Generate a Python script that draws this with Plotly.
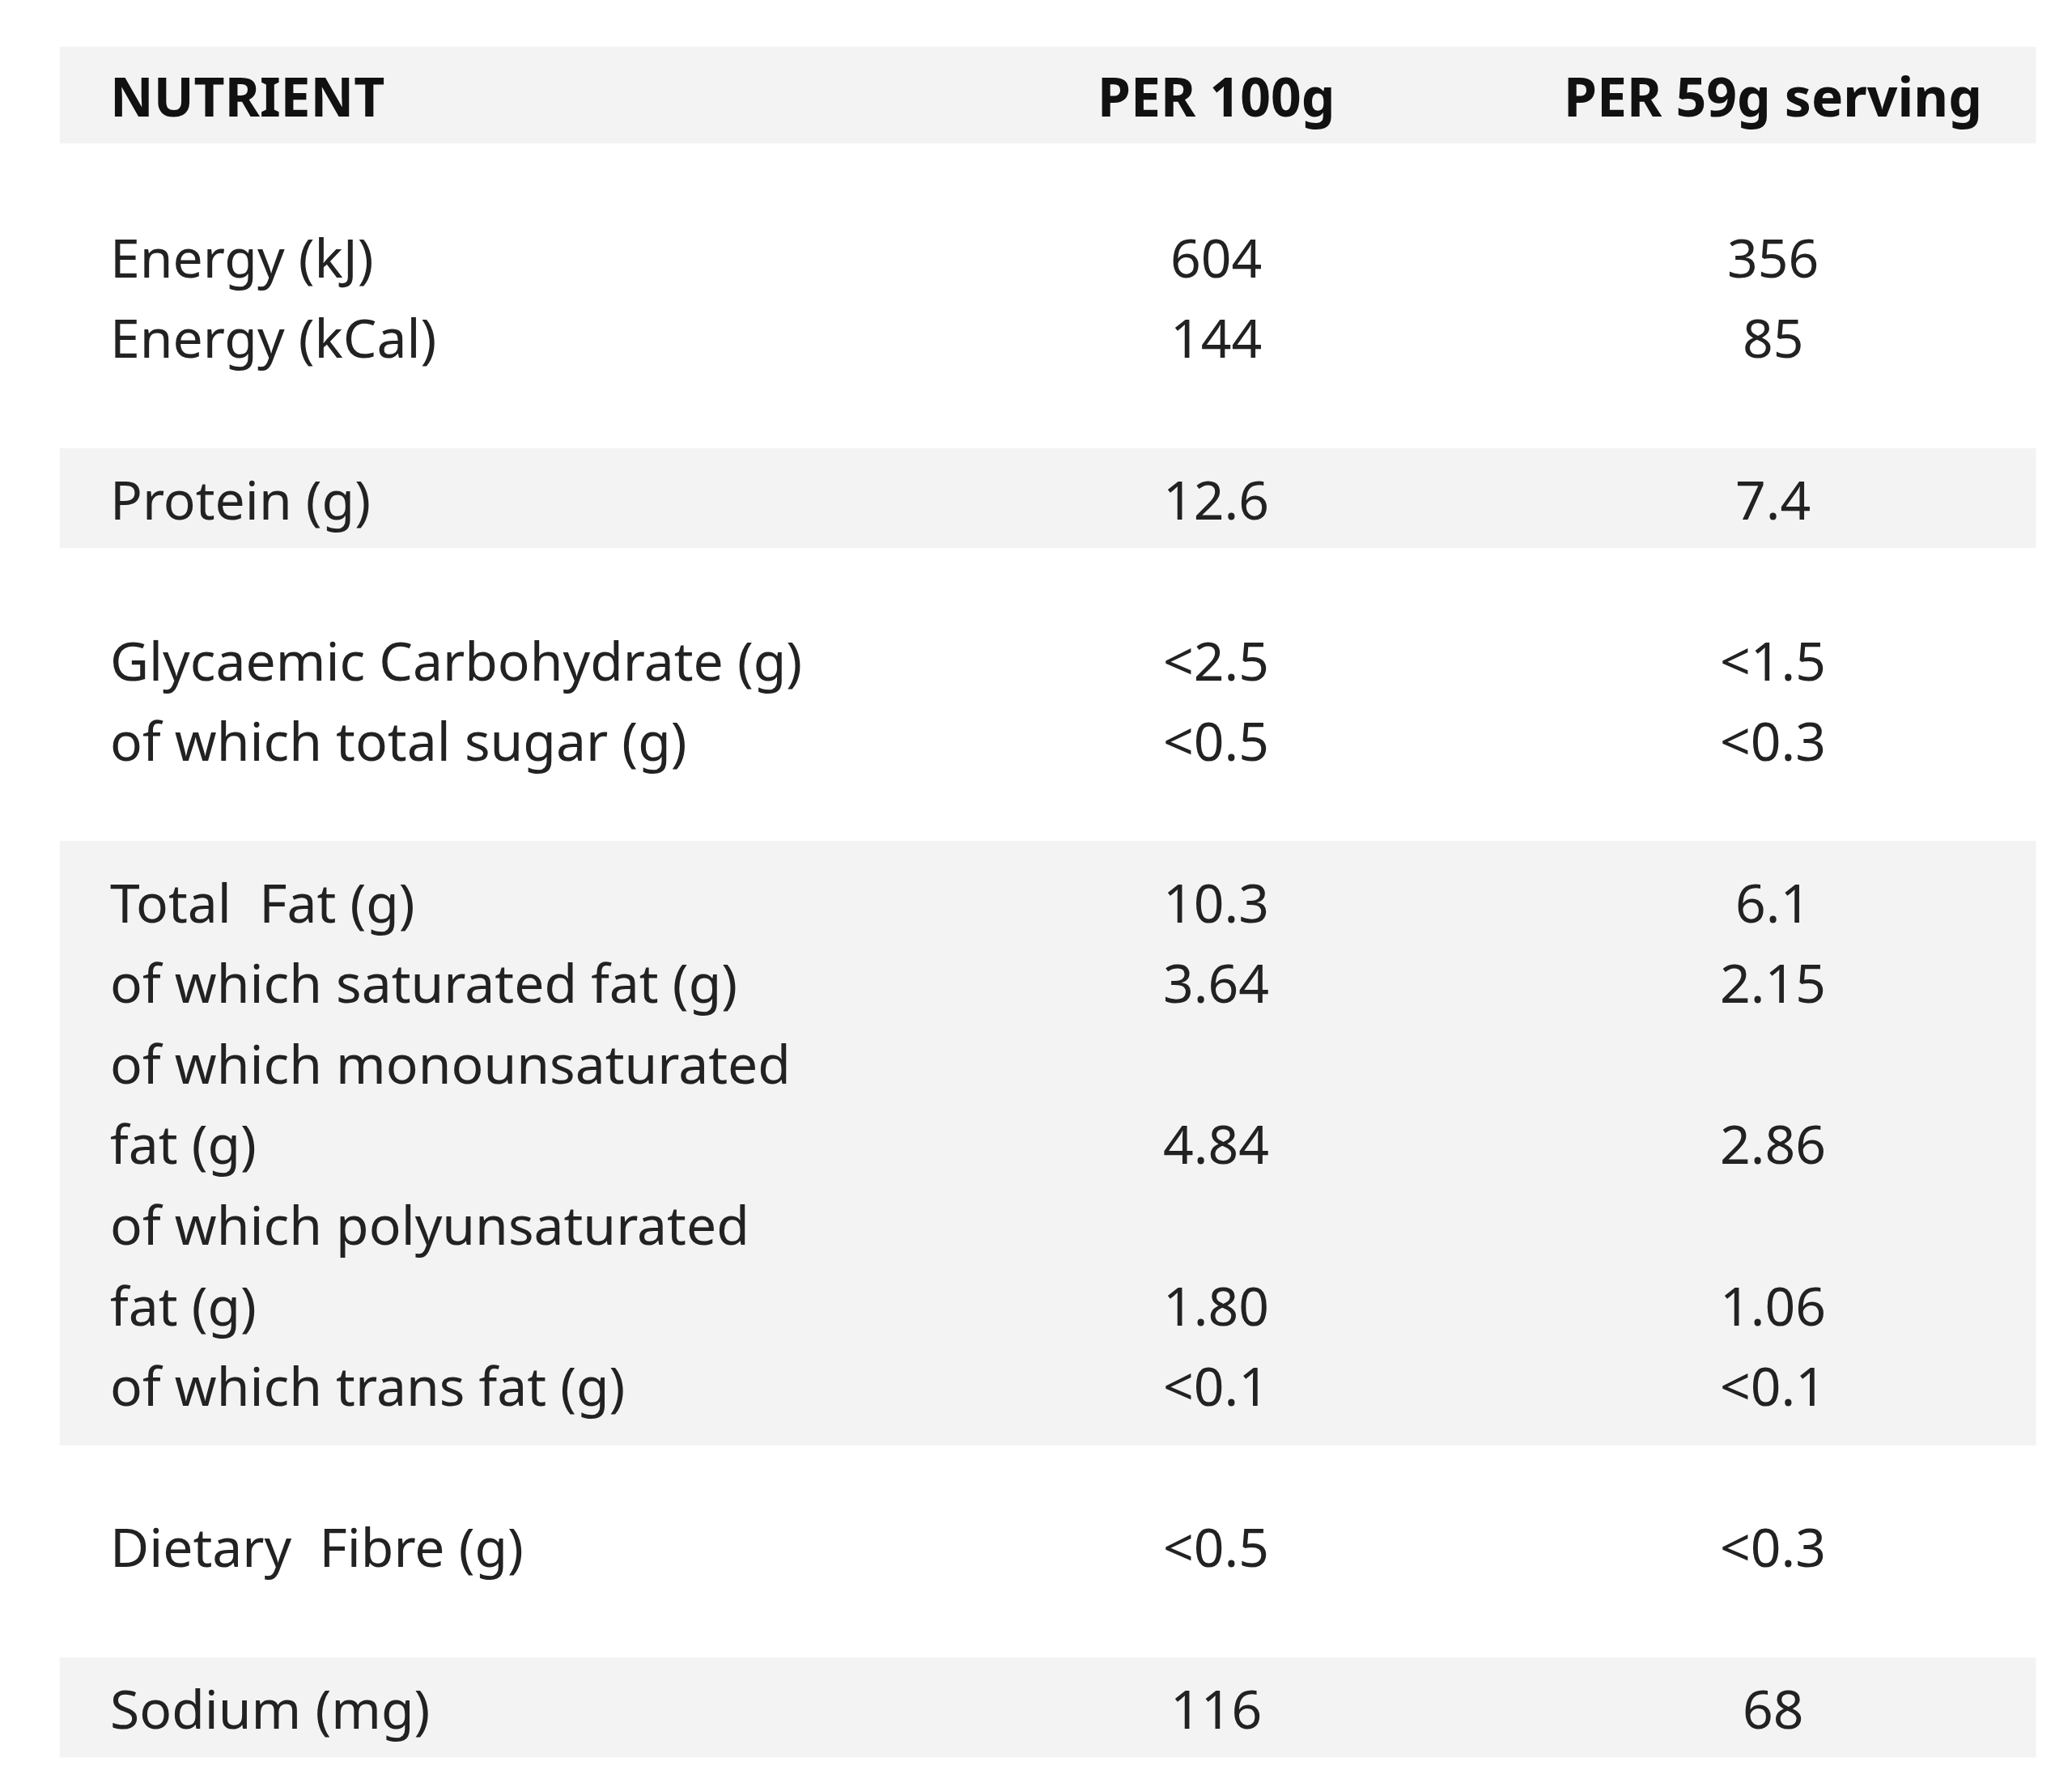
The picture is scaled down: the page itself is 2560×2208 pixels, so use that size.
import plotly.graph_objects as go

# table content, one entry per printed line ("" = no value on that line)
headers = ["NUTRIENT", "PER 100g", "PER 59g serving"]
groups = [
    [("Energy (kJ)", "604", "356"),
     ("Energy (kCal)", "144", "85")],
    [("Protein (g)", "12.6", "7.4")],
    [("Glycaemic Carbohydrate (g)", "<2.5", "<1.5"),
     ("of which total sugar (g)", "<0.5", "<0.3")],
    [("Total  Fat (g)", "10.3", "6.1"),
     ("of which saturated fat (g)", "3.64", "2.15"),
     ("of which monounsaturated", "", ""),
     ("fat (g)", "4.84", "2.86"),
     ("of which polyunsaturated", "", ""),
     ("fat (g)", "1.80", "1.06"),
     ("of which trans fat (g)", "<0.1", "<0.1")],
    [("Dietary  Fibre (g)", "<0.5", "<0.3")],
    [("Sodium (mg)", "116", "68")],
]
shaded = [False, True, False, True, False, True]

FONT = "Noto Sans"
SIZE = 66
GREY = "#f3f3f3"
col_x = [77, 911, 1330]

fig = go.Figure()
shapes, ann = [], []

def band(y0, y1):
    shapes.append(dict(type="rect", xref="x", yref="y", x0=40, x1=1528,
                       y0=y0, y1=y1, fillcolor=GREY, line_width=0, layer="below"))

band(-0.6, 0.6)
for i, h in enumerate(headers):
    ann.append(dict(x=col_x[i], y=0, text="<b>" + h + "</b>" if False else h,
                    xanchor="left" if i == 0 else "center",
                    font=dict(family=FONT, size=SIZE, color="#111111"),
                    showarrow=False))

line = 2
for g, sh in zip(groups, shaded):
    if sh:
        pad = 0.62 if len(g) == 1 else 0.75
        band(line - pad, line + len(g) - 1 + pad)
    for row in g:
        for i, t in enumerate(row):
            if t:
                ann.append(dict(x=col_x[i], y=line, text=t,
                                xanchor="left" if i == 0 else "center",
                                font=dict(family=FONT, size=SIZE, color="#222222"),
                                showarrow=False))
        line += 1
    line += 1

# bold header font
for a in ann[:3]:
    a["font"]["family"] = FONT
    a["text"] = "<b>" + a["text"] + "</b>"

fig.add_trace(go.Scatter(x=[0], y=[0], mode="markers", marker_opacity=0,
                         hoverinfo="skip", showlegend=False))
fig.update_layout(
    width=2560, height=2208, margin=dict(l=0, r=0, t=0, b=0),
    plot_bgcolor="white", paper_bgcolor="white",
    xaxis=dict(range=[0, 1560], visible=False, fixedrange=True),
    yaxis=dict(range=[67 / 60.9 * -1 + 20 + (1350 - 67) / 60.9 - 20, -67 / 60.9][::1],
               visible=False, fixedrange=True),
    shapes=shapes, annotations=ann,
)
fig.update_yaxes(range=[(1350 - 67) / 60.9, -67 / 60.9])
fig.write_html("out.html")
